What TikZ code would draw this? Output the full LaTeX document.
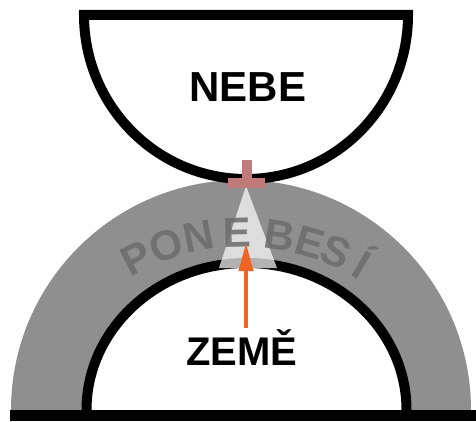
\documentclass[tikz,border=0pt]{standalone}
\usepackage{fontspec}
\setmainfont{Liberation Sans}
\usetikzlibrary{arrows.meta}
\definecolor{bandgray}{RGB}{143,143,143}
\definecolor{lettergray}{RGB}{108,108,108}
\definecolor{crossred}{RGB}{192,122,122}
\definecolor{arroworange}{RGB}{240,100,40}

\begin{document}
\begin{tikzpicture}[x=1pt,y=1pt,
    rim/.style={line width=10pt},
    word/.style={font=\bfseries\fontsize{42}{42}\selectfont, anchor=base, inner sep=0pt},
    letter/.style={font=\bfseries\fontsize{42}{42}\selectfont, text=lettergray, text opacity=0.85, anchor=base, inner sep=0pt}]
  \useasboundingbox (0,0) rectangle (476,421);
  % ponebesi band
  \fill[bandgray] (11,11) arc (180:0:230) -- cycle;
  % earth
  \fill[white] (86.5,11) arc (180:0:160 and 147) -- cycle;
  \draw[rim] (86.5,11) arc (180:0:160 and 147);
  \fill (10,0) rectangle (476,11);
  % light cone
  \fill[white, opacity=0.7] (246,235) -- (219,153) -- (277,153) -- cycle;
  \foreach \ch/\ang [count=\i] in {P/117,O/109,N/101,E/91.5,B/81,E/73.5,S/66.5,Í/59.5}
    \node[letter, rotate=\ang-90] (p\i) at ([shift={(\ang:220)}]243,-46) {\ch};
  % sky
  \draw[rim, fill=white, line join=miter] (84,406) -- (408,406) arc (0:-180:162 and 164) -- cycle;
  \fill[crossred] (242,241) rectangle (252,261);
  \fill[crossred] (228,233) rectangle (265,243);
  \node[word] (nebe) at (248,319) {NEBE};
  \node[word, font=\bfseries\fontsize{40}{40}\selectfont] (zeme) at (242,56) {ZEMĚ};
  \coordinate (foot) at (246,93);
  \coordinate (tip) at (246,178);
  \draw[arroworange, line width=4pt, -{Triangle[length=28pt,width=14pt]}] (foot) -- (tip);
\end{tikzpicture}
\end{document}
